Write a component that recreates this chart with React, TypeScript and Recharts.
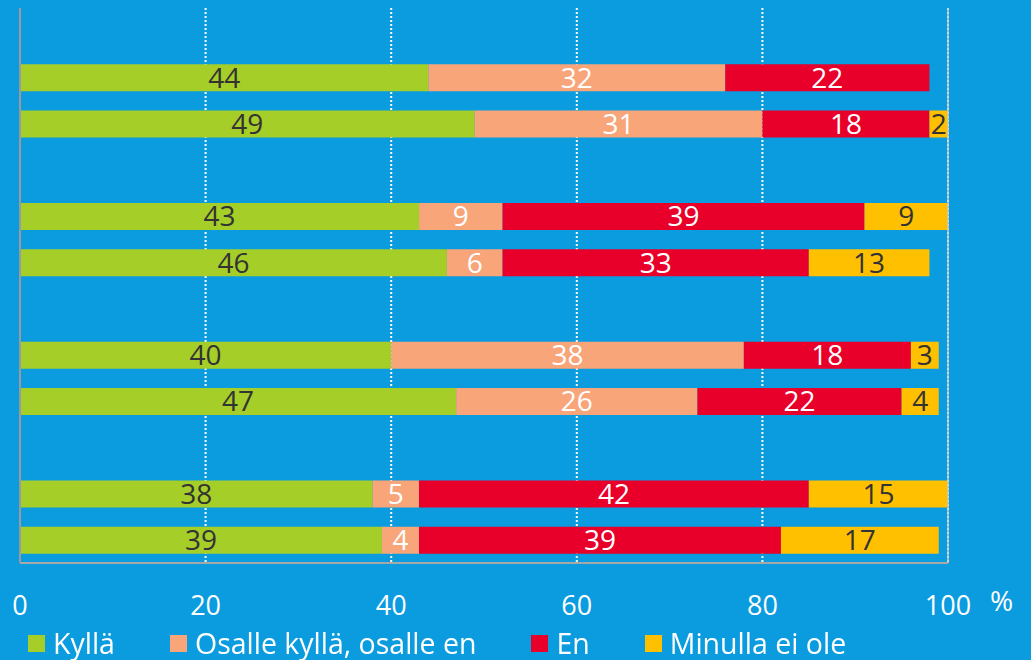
import React from "react";
import {
  BarChart,
  Bar,
  XAxis,
  YAxis,
  CartesianGrid,
  LabelList,
  Legend,
  ReferenceLine,
  Label,
} from "recharts";

// Rows (empty spacer rows separate the four groups)
const categories = ["s1", "r1", "r2", "s2", "r3", "r4", "s3", "r5", "r6", "s4", "r7", "r8"];
const kylla = [null, 44, 49, null, 43, 46, null, 40, 47, null, 38, 39];
const osalle = [null, 32, 31, null, 9, 6, null, 38, 26, null, 5, 4];
const en = [null, 22, 18, null, 39, 33, null, 18, 22, null, 42, 39];
const eiOle = [null, null, 2, null, 9, 13, null, 3, 4, null, 15, 17];

const xTicks = [0, 20, 40, 60, 80, 100];

const seriesNames = ["Kyllä", "Osalle kyllä, osalle en", "En", "Minulla ei ole"];
const seriesKeys = ["kylla", "osalle", "en", "eiOle"];
const seriesColors = ["#A6CE28", "#F9A57A", "#E8002A", "#FFC000"];
const labelColors = ["#333333", "#FFFFFF", "#FFFFFF", "#333333"];

const data = categories.map((c, i) => ({
  cat: c,
  kylla: kylla[i],
  osalle: osalle[i],
  en: en[i],
  eiOle: eiOle[i],
}));

const FONT = "'Open Sans', sans-serif";
const BG = "#0B9BDF";

const Tick = (props: any) => {
  const { x, y, payload } = props;
  return (
    <text x={x} y={y + 52} textAnchor="middle" fill="#FFFFFF" fontSize={27} fontFamily={FONT}>
      {payload.value}
    </text>
  );
};

const LegendContent = () => (
  <div
    style={{
      display: "flex",
      alignItems: "center",
      paddingLeft: 28,
      height: 40,
      paddingTop: 6,
      boxSizing: "border-box",
      fontFamily: FONT,
      color: "#FFFFFF",
      fontSize: 28.5,
    }}
  >
    {seriesNames.map((n, i) => (
      <div key={n} style={{ display: "flex", alignItems: "center", marginRight: 55 }}>
        <div style={{ width: 17, height: 17, background: seriesColors[i], marginRight: 8 }} />
        <span style={{ lineHeight: "30px", whiteSpace: "nowrap" }}>{n}</span>
      </div>
    ))}
  </div>
);

export default function App() {
  return (
    <div style={{ position: "fixed", left: 0, top: 0, width: 1031, height: 660, background: BG }}>
      <BarChart
        width={1031}
        height={660}
        data={data}
        layout="vertical"
        margin={{ top: 8, right: 83, bottom: 0, left: 0 }}
        barSize={27}
      >
        <CartesianGrid
          horizontal={false}
          stroke="#FFFFFF"
          strokeWidth={2}
          strokeDasharray="2 2"
        />
        <XAxis
          type="number"
          domain={[0, 100]}
          ticks={xTicks}
          height={57}
          tickLine={false}
          tickSize={0}
          tickMargin={0}
          axisLine={{ stroke: "#A8A8A8", strokeWidth: 2 }}
          tick={<Tick />}
          interval={0}
        >
          <Label
            value="%"
            position="right"
            offset={42}
            dy={10}
            fill="#FFFFFF"
            fontSize={28}
            fontFamily={FONT}
          />
        </XAxis>
        <XAxis
          xAxisId="top"
          orientation="top"
          type="number"
          domain={[0, 100]}
          height={0}
          tick={false}
          tickLine={false}
          axisLine={{ stroke: "#FFFFFF", strokeWidth: 2 }}
        />
        <YAxis
          type="category"
          dataKey="cat"
          width={20}
          tick={false}
          tickLine={false}
          axisLine={{ stroke: "#9A9A9A", strokeWidth: 2 }}
        />
        <ReferenceLine x={100} stroke="#C8C8C8" strokeWidth={1.5} />
        {seriesKeys.map((k, i) => (
          <Bar
            key={k}
            dataKey={k}
            name={seriesNames[i]}
            stackId="a"
            fill={seriesColors[i]}
            isAnimationActive={false}
          >
            <LabelList
              dataKey={k}
              position="center"
              fill={labelColors[i]}
              fontSize={28}
              fontFamily={FONT}
            />
          </Bar>
        ))}
        <Legend verticalAlign="bottom" height={40} content={<LegendContent />} />
      </BarChart>
    </div>
  );
}
